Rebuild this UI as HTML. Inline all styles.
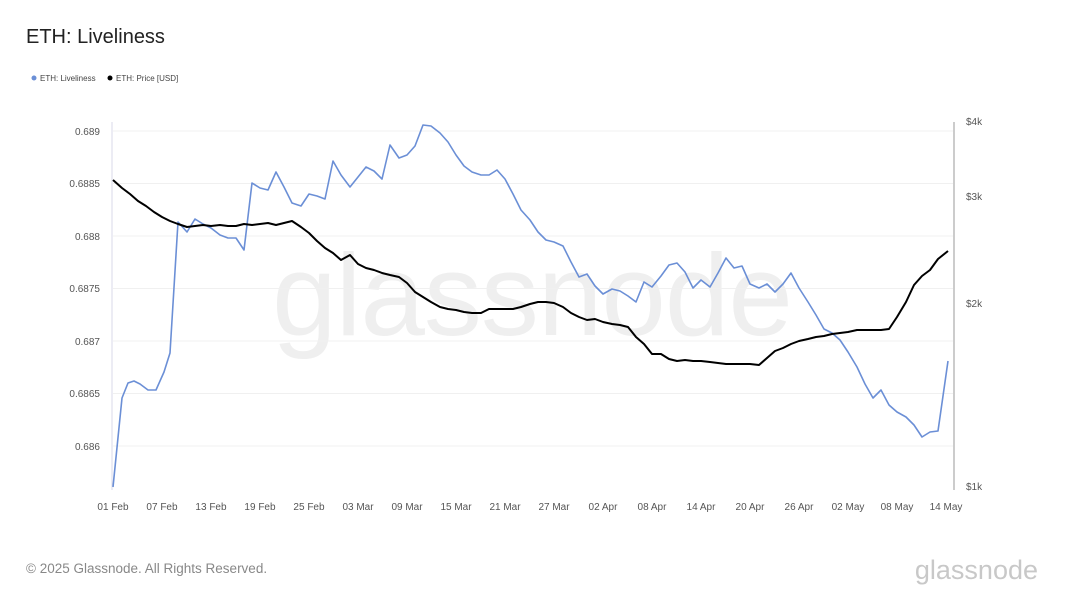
<!DOCTYPE html>
<html><head><meta charset="utf-8"><style>
body{margin:0;background:#fff;font-family:"Liberation Sans",sans-serif}
</style></head><body>
<svg width="1066" height="600" xmlns="http://www.w3.org/2000/svg" font-family="Liberation Sans, sans-serif">
<rect width="1066" height="600" fill="#fff"/>
<text x="26" y="43" font-size="20" fill="#222">ETH: Liveliness</text>
<circle cx="34" cy="78" r="2.5" fill="#6b8fd6"/><text x="40" y="81" font-size="8" fill="#444">ETH: Liveliness</text>
<circle cx="110" cy="78" r="2.5" fill="#000"/><text x="116" y="81" font-size="8" fill="#444">ETH: Price [USD]</text>
<text x="532" y="335" font-size="116" fill="#efefef" text-anchor="middle" letter-spacing="-1">glassnode</text>
<g stroke="#f0f0f0" stroke-width="1">
<line x1="113" x2="953" y1="131" y2="131"/><line x1="113" x2="953" y1="183.5" y2="183.5"/><line x1="113" x2="953" y1="236" y2="236"/><line x1="113" x2="953" y1="288.5" y2="288.5"/><line x1="113" x2="953" y1="341" y2="341"/><line x1="113" x2="953" y1="393.5" y2="393.5"/><line x1="113" x2="953" y1="446" y2="446"/>
</g>
<line x1="112" y1="122" x2="112" y2="490" stroke="#d8d8e8"/>
<line x1="954" y1="122" x2="954" y2="490" stroke="#999"/>
<g font-size="10" fill="#555" text-anchor="end">
<text x="100" y="135">0.689</text><text x="100" y="187">0.6885</text><text x="100" y="240">0.688</text><text x="100" y="292">0.6875</text><text x="100" y="345">0.687</text><text x="100" y="397">0.6865</text><text x="100" y="450">0.686</text>
</g>
<g font-size="10" fill="#555">
<text x="966" y="125">$4k</text><text x="966" y="200">$3k</text><text x="966" y="307">$2k</text><text x="966" y="490">$1k</text>
</g>
<g font-size="10" fill="#555" text-anchor="middle">
<text x="113" y="510">01 Feb</text><text x="162" y="510">07 Feb</text><text x="211" y="510">13 Feb</text><text x="260" y="510">19 Feb</text><text x="309" y="510">25 Feb</text><text x="358" y="510">03 Mar</text><text x="407" y="510">09 Mar</text><text x="456" y="510">15 Mar</text><text x="505" y="510">21 Mar</text><text x="554" y="510">27 Mar</text><text x="603" y="510">02 Apr</text><text x="652" y="510">08 Apr</text><text x="701" y="510">14 Apr</text><text x="750" y="510">20 Apr</text><text x="799" y="510">26 Apr</text><text x="848" y="510">02 May</text><text x="897" y="510">08 May</text><text x="946" y="510">14 May</text>
</g>
<polyline fill="none" stroke="#6b8fd6" stroke-width="1.6" stroke-linejoin="round" points="113,487 122,398 128,383 134,381 140,384 148,390 156,390 164,372 170,353 178,222 187,232 195,219 203,224 211,228 220,235 228,238 236,238 244,250 252,183 260,188 268,190 276,172 284,187 292,203 301,206 309,194 317,196 325,199 333,161 341,175 350,187 358,177 366,167 374,171 382,179 390,145 399,158 407,155 415,146 423,125 431,126 440,133 448,142 456,155 464,166 472,172 481,175 489,175 497,170 505,179 513,194 521,210 530,220 538,232 546,240 554,242 563,246 571,262 579,277 587,274 595,286 603,294 612,289 620,291 628,296 636,302 644,282 652,287 661,276 669,265 677,263 685,272 693,288 701,280 710,287 718,273 726,258 734,268 742,266 750,284 759,288 767,284 775,292 783,284 791,273 799,288 808,302 816,315 824,329 832,333 840,340 848,352 857,367 865,384 873,398 881,390 889,405 897,412 906,417 914,425 922,437 930,432 938,431 948,361"/>
<polyline fill="none" stroke="#000" stroke-width="2" stroke-linejoin="round" points="113,180 122,188 130,194 138,201 146,206 154,212 162,217 170,221 178,224 187,227 195,226 203,225 211,226 220,225 228,226 236,226 244,224 252,225 260,224 268,223 276,225 284,223 292,221 301,227 309,233 317,241 325,248 333,253 341,260 350,255 358,264 366,268 374,270 382,273 390,275 399,277 407,283 415,292 423,297 431,302 440,307 448,309 456,310 464,312 472,313 481,313 489,309 497,309 505,309 513,309 521,307 530,304 538,302 546,302 554,303 563,307 571,313 579,317 587,320 595,319 603,322 612,324 620,325 628,327 636,337 644,344 652,354 661,354 669,359 677,361 685,360 693,361 701,361 710,362 718,363 726,364 734,364 742,364 750,364 759,365 767,358 775,351 783,348 791,344 799,341 808,339 816,337 824,336 832,334 840,333 848,332 857,330 865,330 873,330 881,330 889,329 897,317 906,302 914,285 922,276 930,270 938,259 948,251"/>
<text x="26" y="573" font-size="13.5" fill="#888">© 2025 Glassnode. All Rights Reserved.</text>
<text x="1038" y="579" font-size="27" fill="#c8c8c8" text-anchor="end">glassnode</text>
</svg>
</body></html>
